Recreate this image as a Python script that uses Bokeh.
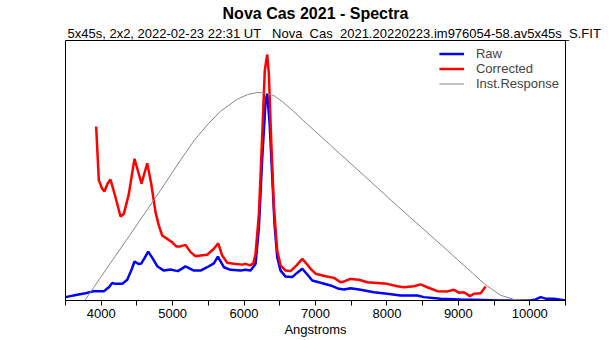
from bokeh.plotting import figure
from bokeh.models import Range1d, Legend, LegendItem, FixedTicker, Title
from bokeh.embed import file_html
from bokeh.resources import INLINE

FONT = "Liberation Sans"

title_text = "Nova Cas 2021 - Spectra"
subtitle_text = "5x45s, 2x2, 2022-02-23 22:31 UT\u00a0\u00a0\u00a0Nova_Cas_2021.20220223.im976054-58.av5x45s_S.FIT"
x_label = "Angstroms"

# Raw spectrum (normalized intensity)
raw_wl = [3500, 3664, 3780, 3897, 4037, 4107, 4154, 4200, 4294, 4364, 4420, 4466, 4527, 4560,
          4610, 4658, 4720, 4784, 4877, 4970, 5072, 5180, 5297, 5390, 5484, 5577, 5633, 5717,
          5811, 5951, 6021, 6091, 6161, 6208, 6255, 6302, 6324, 6358, 6392, 6426, 6464, 6511,
          6581, 6674, 6745, 6815, 6876, 6955, 7071, 7211, 7328, 7398, 7491, 7632, 7818, 8005,
          8192, 8425, 8518, 8752, 9032, 9218, 9592, 10012, 10082, 10152, 10222, 10339, 10433, 10500]
raw_val = [0.013, 0.022, 0.028, 0.036, 0.036, 0.051, 0.067, 0.064, 0.064, 0.080, 0.115, 0.150, 0.140, 0.142,
           0.165, 0.188, 0.162, 0.132, 0.115, 0.119, 0.113, 0.131, 0.115, 0.115, 0.128, 0.143, 0.169, 0.128,
           0.118, 0.115, 0.118, 0.115, 0.141, 0.282, 0.551, 0.769, 0.795, 0.681, 0.488, 0.296, 0.167, 0.115,
           0.092, 0.090, 0.107, 0.122, 0.103, 0.077, 0.068, 0.058, 0.045, 0.042, 0.047, 0.041, 0.032, 0.026,
           0.019, 0.019, 0.013, 0.007, 0.004, 0.003, 0.000, 0.000, 0.004, 0.013, 0.007, 0.007, 0.003, 0.000]

# Corrected spectrum
cor_wl = [3929, 3967, 4014, 4046, 4090, 4130, 4200, 4270, 4317, 4387, 4466, 4513, 4564, 4644, 4700,
          4760, 4807, 4854, 4924, 4994, 5050, 5110, 5180, 5251, 5321, 5391, 5484, 5577, 5638, 5694,
          5764, 5858, 5975, 6021, 6081, 6130, 6161, 6208, 6255, 6290, 6324, 6347, 6380, 6418, 6464,
          6511, 6581, 6651, 6735, 6815, 6876, 6931, 7001, 7141, 7258, 7351, 7398, 7491, 7608, 7725,
          7865, 8005, 8145, 8238, 8378, 8472, 8565, 8705, 8845, 8938, 9008, 9078, 9162, 9218, 9312, 9382]
cor_val = [0.669, 0.462, 0.430, 0.420, 0.450, 0.465, 0.397, 0.323, 0.333, 0.410, 0.545, 0.500, 0.449, 0.528, 0.449,
           0.340, 0.288, 0.250, 0.237, 0.224, 0.208, 0.208, 0.214, 0.186, 0.170, 0.173, 0.176, 0.199, 0.220, 0.173,
           0.145, 0.141, 0.138, 0.141, 0.135, 0.143, 0.180, 0.335, 0.642, 0.885, 0.946, 0.872, 0.615, 0.359, 0.192,
           0.135, 0.115, 0.113, 0.135, 0.160, 0.141, 0.122, 0.103, 0.093, 0.087, 0.070, 0.073, 0.083, 0.080, 0.070,
           0.067, 0.064, 0.055, 0.051, 0.055, 0.062, 0.051, 0.036, 0.035, 0.041, 0.030, 0.032, 0.017, 0.026, 0.028, 0.054]

# Instrument response
inst_wl = [3770, 3896, 4364, 4784, 5110, 5300, 5484, 5670, 5904, 6050, 6184, 6300, 6418, 6550, 6698,
           6978, 7211, 7328, 7678, 8145, 8612, 8845, 8985, 9200, 9358, 9592, 9779, 10000]
inst_val = [0.000, 0.051, 0.237, 0.405, 0.540, 0.615, 0.675, 0.728, 0.774, 0.792, 0.800, 0.798, 0.788, 0.762, 0.726,
            0.655, 0.597, 0.568, 0.481, 0.364, 0.250, 0.193, 0.158, 0.105, 0.065, 0.020, 0.004, 0.000]

x_ticks = list(range(3500, 10501, 500))

p = figure(width=615, height=340, output_backend="svg", toolbar_location=None,
           x_range=Range1d(3500, 10500), y_range=Range1d(0, 1),
           min_border_left=65, min_border_right=50, min_border_top=40, min_border_bottom=40)
p.background_fill_color = "white"
p.border_fill_color = "white"
p.outline_line_color = "black"
p.outline_line_width = 1
p.xgrid.visible = False
p.ygrid.visible = False
p.yaxis.visible = False

ax = p.xaxis[0]
ax.ticker = FixedTicker(ticks=x_ticks)
ax.major_label_overrides = {t: ("" if t % 1000 else str(t)) for t in x_ticks}
ax.minor_tick_line_color = None
ax.major_tick_out = 5
ax.major_tick_in = 0
ax.major_label_standoff = 3
ax.major_label_text_font = FONT
ax.major_label_text_font_size = "13px"
ax.major_label_text_color = "black"
ax.axis_label = x_label
ax.axis_label_text_font = FONT
ax.axis_label_text_font_size = "13px"
ax.axis_label_text_font_style = "normal"
ax.axis_label_text_color = "black"
ax.axis_label_standoff = 1
ax.axis_line_color = "black"
ax.major_tick_line_color = "black"

r_raw = p.line(raw_wl, raw_val, line_color="#0000FF", line_width=2.5)
r_cor = p.line(cor_wl, cor_val, line_color="#FF0000", line_width=2.5)
r_inst = p.line(inst_wl, inst_val, line_color="#888888", line_width=1)

legend = Legend(items=[LegendItem(label="Raw", renderers=[r_raw]),
                       LegendItem(label="Corrected", renderers=[r_cor]),
                       LegendItem(label="Inst.Response", renderers=[r_inst])],
                location="top_right", border_line_color=None, background_fill_alpha=0,
                margin=6, padding=6, spacing=0, glyph_width=25, glyph_height=15,
                label_height=15, label_standoff=12,
                label_text_font=FONT, label_text_font_size="13px")
p.add_layout(legend)

p.add_layout(Title(text=subtitle_text, align="left", text_font=FONT, text_font_size="13px",
                   text_font_style="normal", text_color="black", standoff=0, offset=2), "above")
p.add_layout(Title(text=title_text, align="center", text_font=FONT, text_font_size="16px",
                   text_font_style="bold", text_color="black", standoff=4), "above")

open("out.html", "w").write(file_html(p, INLINE))
